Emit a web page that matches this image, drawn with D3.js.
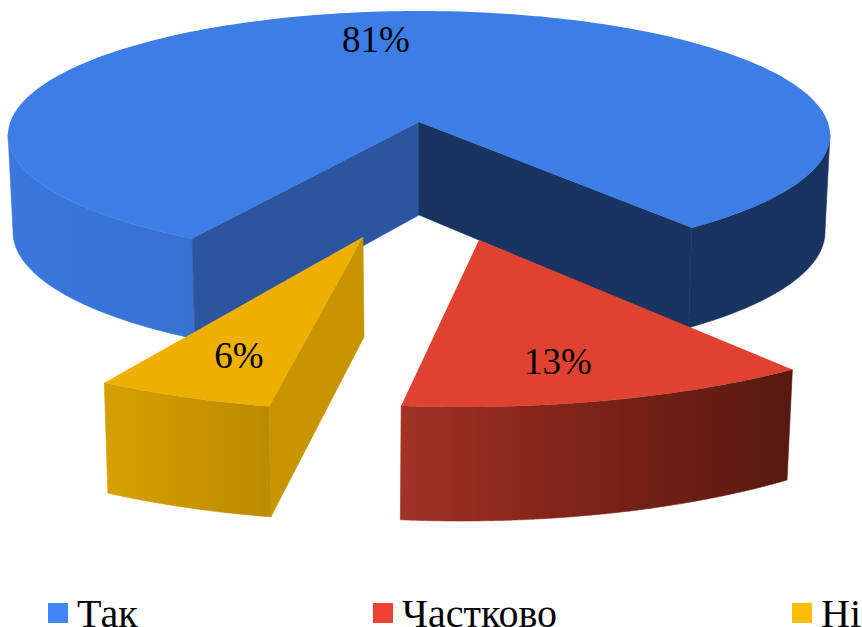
<!DOCTYPE html>
<html><head><meta charset="utf-8">
<script src="https://cdn.jsdelivr.net/npm/d3@7/dist/d3.min.js"></script>
<style>html,body{margin:0;padding:0;background:#fff;overflow:hidden}svg{display:block}text{font-family:"Liberation Serif","Times New Roman",serif;fill:#000}</style>
</head><body><div id="chart"></div>
<script>
const categories = ["Так", "Частково", "Ні"];
const values = [81, 13, 6];
const tickLabels = ["81%", "13%", "6%"];
const legendColors = ["#4285f4", "#ea4335", "#fbbc04"];

const W = 862, H = 627;
const rad = d => d * Math.PI / 180;
// Perspective layout of each exploded slice: top and bottom ellipses, apexes, angular mapping.
const layouts = [
  {t0:123.5,k:0.977,apex:[419,122],apexB:[419,215],top:{cx:419,cy:135,rx:411,ry:124},bot:{cx:419,cy:232,rx:406,ry:128},
   fill:"#3c7de6",face:"#2b559f",faceEnd:"#1a3461",stops:[[0,"#3a78de"],[0.22,"#3772d2"],[0.78,"#1a3461"],[1,"#1a3461"]],label:[376,52]},
  {t0:50,k:1,apex:[479,240],apexB:[479,340],top:{cx:462,cy:247,rx:514,ry:160},bot:{cx:460.5,cy:346,rx:508,ry:175},
   fill:"#e04232",face:"#8a271c",faceEnd:"#8a271c",stops:[[0.465,"#a23325"],[0.6,"#8b271c"],[0.92,"#561910"]],label:[558,374]},
  {t0:104.2,k:1,apex:[363,237],apexB:[364,337],top:{cx:388,cy:261,rx:485,ry:150},bot:{cx:388.6,cy:371.5,rx:480,ry:150},
   fill:"#edb000",face:"#c79500",faceEnd:"#c79500",stops:[[0.12,"#d6a000"],[0.315,"#bb8b00"]],label:[239,368]}
];

const svg = d3.select("#chart").append("svg").attr("width",W).attr("height",H).attr("viewBox",`0 0 ${W} ${H}`);
const defs = svg.append("defs");
const pie = d3.pie().sort(null).value(d => d);
const arcs = pie(values);
const line = d3.line();

arcs.forEach((arc, i) => {
  const L = layouts[i];
  const g = svg.append("g");
  const tOf = a => rad(L.t0) + L.k * (a - arc.startAngle);
  const pt = (E, t) => [E.cx + E.rx * Math.cos(t), E.cy + E.ry * Math.sin(t)];
  const ts = d3.range(0, 241).map(j => tOf(arc.startAngle + (arc.endAngle - arc.startAngle) * j / 240));
  const topPts = ts.map(t => pt(L.top, t));

  const grad = defs.append("linearGradient").attr("id", "side" + i)
    .attr("gradientUnits", "userSpaceOnUse").attr("x1", 0).attr("x2", W).attr("y1", 0).attr("y2", 0);
  L.stops.forEach(s => grad.append("stop").attr("offset", s[0]).attr("stop-color", s[1]));

  // outer wall: only the runs that face the viewer
  let run = [];
  const flush = () => {
    if (run.length > 1) {
      const poly = run.map(t => pt(L.top, t)).concat(run.slice().reverse().map(t => pt(L.bot, t)));
      g.append("path").attr("d", line(poly) + "Z").attr("fill", `url(#side${i})`)
        .attr("stroke", `url(#side${i})`).attr("stroke-width", 0.6);
    }
    run = [];
  };
  ts.forEach(t => { if (Math.sin(t) >= -0.01) run.push(t); else flush(); });
  flush();

  // cut faces
  const p0 = pt(L.top, ts[0]), p1 = pt(L.top, ts[ts.length-1]);
  const b0 = pt(L.bot, ts[0]), b1 = pt(L.bot, ts[ts.length-1]);
  if (p0[0] < L.apex[0]) g.append("path").attr("d", line([L.apex,p0,b0,L.apexB]) + "Z").attr("fill", L.face).attr("stroke", L.face).attr("stroke-width", 0.6);
  if (p1[0] > L.apex[0]) g.append("path").attr("d", line([L.apex,p1,b1,L.apexB]) + "Z").attr("fill", L.faceEnd).attr("stroke", L.faceEnd).attr("stroke-width", 0.6);

  // top surface
  g.append("path").attr("d", line([L.apex].concat(topPts)) + "Z").attr("fill", L.fill);
});

arcs.forEach((arc, i) => {
  const L = layouts[i];
  svg.append("text").attr("x", L.label[0]).attr("y", L.label[1]).attr("text-anchor","middle")
    .attr("font-size", 37).text(tickLabels[i]);
});

const legendX = [48, 373, 792];
categories.forEach((c, i) => {
  svg.append("rect").attr("x", legendX[i]).attr("y", 603).attr("width", 20).attr("height", 20).attr("fill", legendColors[i]);
  svg.append("text").attr("x", legendX[i] + 29).attr("y", 626.5).attr("font-size", 40).text(c);
});
</script></body></html>
